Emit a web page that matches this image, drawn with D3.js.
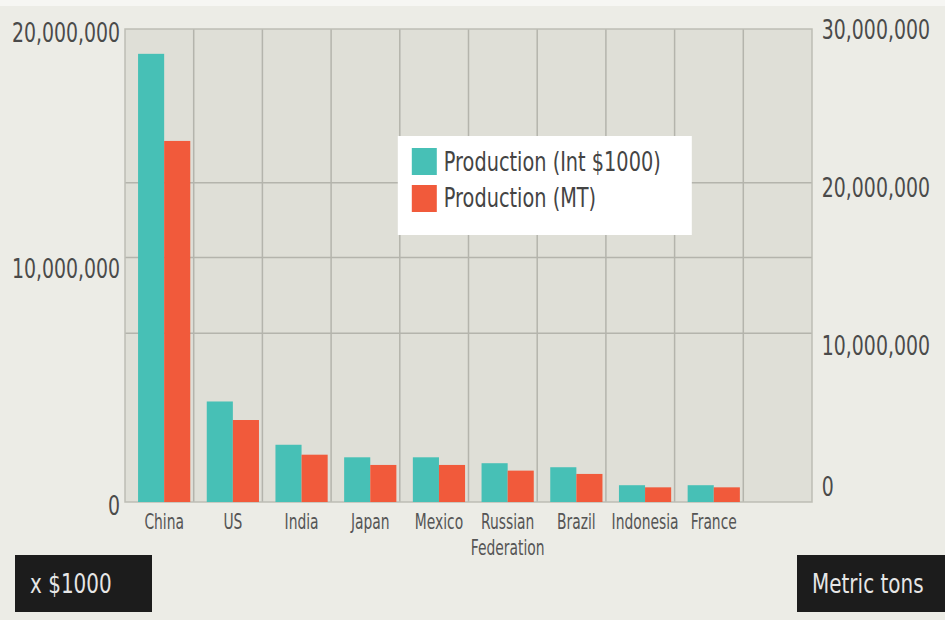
<!DOCTYPE html>
<html>
<head>
<meta charset="utf-8">
<script src="https://cdn.jsdelivr.net/npm/d3@7"></script>
<style>
  body { margin: 0; background: #ecece6; }
  text { font-family: "DejaVu Sans", sans-serif; }
</style>
</head>
<body>
<div id="chart"></div>
<script>
// Data
var countries = ["China", "US", "India", "Japan", "Mexico", "Russian Federation", "Brazil", "Indonesia", "France"];
var productionInt = [18950000, 4250000, 2420000, 1890000, 1890000, 1640000, 1470000, 710000, 710000]; // Int $1000
var productionMT = [22900000, 5200000, 3000000, 2350000, 2350000, 1990000, 1780000, 930000, 930000];   // metric tons
var seriesNames = ["Production (Int $1000)", "Production (MT)"];
var leftTicks = [0, 10000000, 20000000];
var rightTicks = [0, 10000000, 20000000, 30000000];
var gridValues = [10700000, 15500000, 20250000]; // on the right scale

var svgWidth = 945;
var svgHeight = 620;
var margin = { top: 29, right: 133, bottom: 118, left: 125 };
var width = svgWidth - margin.left - margin.right;
var height = svgHeight - margin.top - margin.bottom;

var colors = ["#47c0b6", "#f15a3b"];
var squeeze = 0.7; // the reference font is narrow

var svg = d3.select("#chart")
    .append("svg")
    .attr("width", svgWidth)
    .attr("height", svgHeight);

svg.append("rect")
    .attr("width", svgWidth)
    .attr("height", 6)
    .attr("fill", "#f6f6f3");

var chartGroup = svg.append("g")
    .attr("transform", `translate(${margin.left}, ${margin.top})`);

// scales: one empty slot after France
var slots = countries.concat([""]);
var x = d3.scaleBand().domain(slots).range([0, width]);
var bw = x.bandwidth();
var x1 = d3.scaleBand().domain(seriesNames).range([bw * 0.19, bw * 0.95]);
var yL = d3.scaleLinear().domain([0, 20000000]).range([height, 0]);
var yR = d3.scaleLinear().domain([0, 30000000]).range([height, 0]);

// plot background
chartGroup.append("rect")
    .attr("width", width)
    .attr("height", height)
    .attr("fill", "#dfdfd7");

// grid
chartGroup.selectAll(".hgrid")
    .data(gridValues)
    .enter()
    .append("line")
    .attr("x1", 0)
    .attr("x2", width)
    .attr("y1", d => yR(d))
    .attr("y2", d => yR(d))
    .attr("stroke", "#b4b4ac")
    .attr("stroke-width", 1.5);

chartGroup.selectAll(".vgrid")
    .data(slots.slice(1))
    .enter()
    .append("line")
    .attr("x1", d => x(d))
    .attr("x2", d => x(d))
    .attr("y1", 0)
    .attr("y2", height)
    .attr("stroke", "#b4b4ac")
    .attr("stroke-width", 1.5);

chartGroup.append("rect")
    .attr("width", width)
    .attr("height", height)
    .attr("fill", "none")
    .attr("stroke", "#bdbdb5")
    .attr("stroke-width", 1.5);

// bars
var rows = countries.map(function(c, i) {
    return { country: c, int: productionInt[i], mt: productionMT[i] };
});

chartGroup.selectAll(".barInt")
    .data(rows)
    .enter()
    .append("rect")
    .attr("x", d => x(d.country) + x1(seriesNames[0]))
    .attr("y", d => yL(d.int))
    .attr("width", x1.bandwidth())
    .attr("height", d => height - yL(d.int))
    .attr("fill", colors[0]);

chartGroup.selectAll(".barMT")
    .data(rows)
    .enter()
    .append("rect")
    .attr("x", d => x(d.country) + x1(seriesNames[1]))
    .attr("y", d => yR(d.mt))
    .attr("width", x1.bandwidth())
    .attr("height", d => height - yR(d.mt))
    .attr("fill", colors[1]);

// axes
var leftAxis = d3.axisLeft(yL)
    .tickValues(leftTicks)
    .tickSize(0)
    .tickPadding(7)
    .tickFormat(d3.format(","));

var rightAxis = d3.axisRight(yR)
    .tickValues(rightTicks)
    .tickSize(0)
    .tickPadding(14)
    .tickFormat(d3.format(","));

var gl = chartGroup.append("g").call(leftAxis);
gl.select(".domain").remove();
gl.selectAll("text")
    .attr("dy", "0.45em")
    .attr("fill", "#4a4a4a")
    .style("font-size", "27px")
    .attr("transform", `scale(${squeeze}, 1)`);

var gr = chartGroup.append("g")
    .attr("transform", `translate(${width}, 0)`)
    .call(rightAxis);
gr.select(".domain").remove();
gr.selectAll("text")
    .attr("dy", "0.36em")
    .attr("fill", "#4a4a4a")
    .style("font-size", "27px")
    .attr("transform", `scale(${squeeze}, 1)`);
// bottom label sits higher, inside the chart
gr.selectAll(".tick").filter(d => d === 0).select("text").attr("y", -16);

// category labels
var catLabels = chartGroup.selectAll(".cat")
    .data(countries)
    .enter()
    .append("text")
    .attr("transform", d => `translate(${x(d) + (x1(seriesNames[0]) + x1(seriesNames[1]) + x1.bandwidth()) / 2}, ${height + 27}) scale(0.66, 1)`)
    .attr("text-anchor", "middle")
    .attr("fill", "#555")
    .style("font-size", "21px");

catLabels.selectAll("tspan")
    .data(d => d.split(" "))
    .enter()
    .append("tspan")
    .attr("x", 0)
    .attr("dy", (d, i) => i === 0 ? 0 : 26)
    .text(d => d);

// legend
var legend = chartGroup.append("g")
    .attr("transform", `translate(${x(countries[4]) - 2}, ${107})`);

legend.append("rect")
    .attr("width", 294)
    .attr("height", 99)
    .attr("fill", "#ffffff");

legend.selectAll(".swatch")
    .data(seriesNames)
    .enter()
    .append("rect")
    .attr("x", 14)
    .attr("y", (d, i) => 12 + i * 37)
    .attr("width", 25)
    .attr("height", 27)
    .attr("fill", (d, i) => colors[i]);

legend.selectAll(".ltext")
    .data(seriesNames)
    .enter()
    .append("text")
    .attr("transform", (d, i) => `translate(46, ${26 + i * 36}) scale(0.715, 1)`)
    .attr("dy", "0.35em")
    .attr("fill", "#444")
    .style("font-size", "27px")
    .text(d => d);

// unit boxes
var units = [
    { label: "x $1000", x: 15, w: 137, tx: 30 },
    { label: "Metric tons", x: 797, w: 160, tx: 812 }
];

var unitGroups = svg.selectAll(".unit")
    .data(units)
    .enter()
    .append("g");

unitGroups.append("rect")
    .attr("x", d => d.x)
    .attr("y", 555)
    .attr("width", d => d.w)
    .attr("height", 57)
    .attr("fill", "#1c1c1c");

unitGroups.append("text")
    .attr("transform", d => `translate(${d.tx}, 583) scale(0.74, 1)`)
    .attr("dy", "0.36em")
    .attr("fill", "#e6e6e6")
    .style("font-size", "27px")
    .text(d => d.label);
</script>
</body>
</html>
